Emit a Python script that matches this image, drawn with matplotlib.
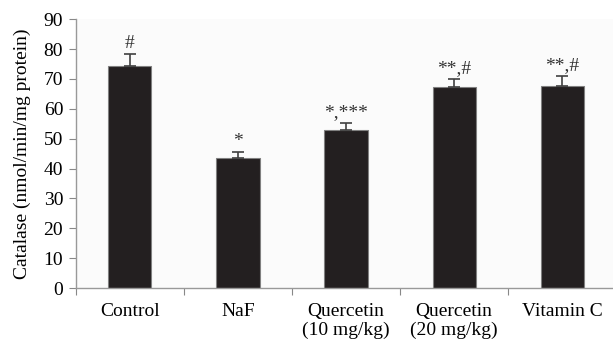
import numpy as np
import matplotlib.pyplot as plt

plt.rcParams['font.family'] = ['Liberation Serif', 'DejaVu Serif']

groups = ['Control', 'NaF', 'Quercetin\n(10 mg/kg)', 'Quercetin\n(20 mg/kg)', 'Vitamin C']
catalase = [74.4, 43.7, 52.8, 67.2, 67.5]
sem = [3.9, 1.9, 2.3, 2.9, 3.4]
signif = ['#', '*', '*,***', '**,#', '**,#']

fig = plt.figure(figsize=(6.13, 3.43), dpi=100)
ax = fig.add_axes([0.1235, 0.160, 0.882, 0.784])
ax.set_facecolor('#fbfbfb')

x = np.arange(len(groups))
ax.bar(x, catalase, width=0.4, color='#231f20', edgecolor='#808080', linewidth=0.8, zorder=2)
ax.errorbar(x, catalase, yerr=[np.zeros(len(sem)), sem], fmt='none', ecolor='#404040',
            elinewidth=1.2, capsize=4, capthick=1.2, zorder=3)

for xi, v, e, s in zip(x, catalase, sem, signif):
    ax.text(xi, v + e + 2.0, s, ha='center', va='baseline', fontsize=14, color='#333333')

ax.set_xlim(-0.5, 4.5)
ax.set_ylim(0, 90)
ax.set_yticks(np.arange(0, 91, 10))
ax.set_xticks(np.arange(-0.5, 4.6, 1))
ax.set_xticklabels([])
ax.set_xticks(x, minor=True)
ax.set_xticklabels(groups, minor=True, fontsize=14, linespacing=1.15)
ax.tick_params(axis='x', which='minor', length=0, pad=10.5)
ax.tick_params(axis='x', which='major', length=5, color='#888888', direction='out')
ax.tick_params(axis='y', length=5, color='#888888', direction='out', labelsize=14, pad=4)

for side in ['top', 'right']:
    ax.spines[side].set_visible(False)
for side in ['left', 'bottom']:
    ax.spines[side].set_color('#999999')
    ax.spines[side].set_linewidth(1.0)

ax.set_ylabel('Catalase (nmol/min/mg protein)', fontsize=14, labelpad=9)

fig.savefig('out.png', dpi=100, facecolor='white')
